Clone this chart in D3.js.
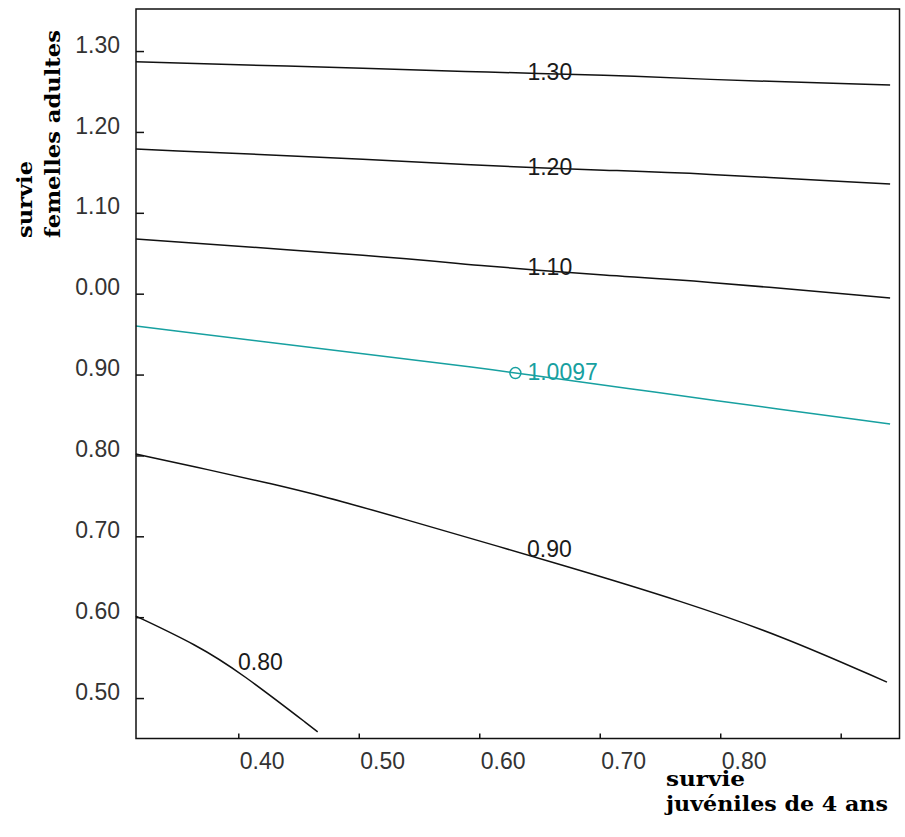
<!DOCTYPE html>
<html>
<head>
<meta charset="utf-8">
<script src="https://cdn.jsdelivr.net/npm/d3@7"></script>
<style>
  html, body { margin: 0; padding: 0; background: #fff; }
  svg { display: block; }
</style>
</head>
<body>
<svg id="chart" width="905" height="837"></svg>
<script>
// Isoclines of population growth rate (lambda) against
// juvenile (4 y) survival and adult female survival.

const xTicks = [0.40, 0.50, 0.60, 0.70, 0.80, 0.90];
const xTickLabels = ["0.40", "0.50", "0.60", "0.70", "0.80", ""];
const yTicks = [0.50, 0.60, 0.70, 0.80, 0.90, 1.00, 1.10, 1.20, 1.30];
const yTickLabels = ["0.50", "0.60", "0.70", "0.80", "0.90", "0.00", "1.10", "1.20", "1.30"];

// contour levels, each traced as [juvenile survival, adult female survival]
const contourLevels = ["1.30", "1.20", "1.10", "1.0097", "0.90", "0.80"];
const c130 = [[0.315, 1.2868], [0.526, 1.2777], [0.601, 1.2740], [0.711, 1.2703], [0.775, 1.2654], [0.941, 1.2580]];
const c120 = [[0.315, 1.1788], [0.526, 1.1652], [0.601, 1.1584], [0.711, 1.1522], [0.775, 1.1492], [0.941, 1.1355]];
const c110 = [[0.315, 1.0675], [0.526, 1.0457], [0.601, 1.0345], [0.711, 1.0218], [0.775, 1.0168], [0.941, 0.9946]];
const c10097 = [[0.315, 0.9600], [0.526, 0.9216], [0.601, 0.9080], [0.630, 0.9018], [0.734, 0.8808], [0.775, 0.8722], [0.941, 0.8388]];
const c090 = [[0.315, 0.8017], [0.3765, 0.7819], [0.4263, 0.7655], [0.4761, 0.7473], [0.5176, 0.7300], [0.6836, 0.6583], [0.7666, 0.6203], [0.8496, 0.5779], [0.9384, 0.5197]];
const c080 = [[0.315, 0.6014], [0.3657, 0.5655], [0.4014, 0.5322], [0.4659, 0.4583]];
const contours = [c130, c120, c110, c10097, c090, c080];

// where each level's value is written
const labelX = [0.640, 0.640, 0.640, 0.640, 0.6396, 0.3998];
const labelY = [1.2641, 1.1467, 1.0230, 0.8932, 0.6743, 0.5347];

// current parameter set (lambda = 1.0097)
const currentPoint = [0.630, 0.9018];

const svg = d3.select("#chart");
const plotLeft = 136, plotRight = 899.5, plotTop = 9, plotBottom = 738.5;

const x = d3.scaleLinear().domain([0.3151, 0.9488]).range([plotLeft, plotRight]);
const y = d3.scaleLinear().domain([0.4500, 1.3520]).range([plotBottom, plotTop]);

const numFont = "'Liberation Sans', Arial, sans-serif";
const numSize = 23;
const titleFont = "'DejaVu Serif', 'Liberation Serif', serif";
const teal = "#17a0a0";

// contour lines
const line = d3.line().x(d => x(d[0])).y(d => y(d[1])).curve(d3.curveBasis);
svg.append("g")
  .selectAll("path")
  .data(contours)
  .join("path")
  .attr("d", line)
  .attr("fill", "none")
  .attr("stroke", (d, i) => contourLevels[i] === "1.0097" ? teal : "#111")
  .attr("stroke-width", 1.5);

// contour values
svg.append("g")
  .selectAll("text")
  .data(contourLevels)
  .join("text")
  .attr("x", (d, i) => x(labelX[i]))
  .attr("y", (d, i) => y(labelY[i]))
  .attr("font-family", numFont)
  .attr("font-size", numSize)
  .attr("fill", d => d === "1.0097" ? teal : "#1a1a1a")
  .text(d => d);

// marker of the current value
svg.append("circle")
  .attr("cx", x(currentPoint[0]))
  .attr("cy", y(currentPoint[1]))
  .attr("r", 5.5)
  .attr("fill", "none")
  .attr("stroke", teal)
  .attr("stroke-width", 1.5);

// y axis, ticks pointing inward
const yAxis = d3.axisLeft(y)
  .tickValues(yTicks)
  .tickSizeInner(-8)
  .tickSizeOuter(0)
  .tickPadding(16)
  .tickFormat((d, i) => yTickLabels[i]);
const gy = svg.append("g").attr("transform", `translate(${plotLeft},0)`).call(yAxis);
gy.select(".domain").remove();
gy.selectAll(".tick line").attr("stroke", "#111").attr("stroke-width", 1.5);
gy.selectAll(".tick text")
  .attr("font-family", numFont)
  .attr("font-size", numSize)
  .attr("fill", "#333")
  .attr("dy", "0.05em");

// x axis, ticks pointing inward
const xAxis = d3.axisBottom(x)
  .tickValues(xTicks)
  .tickSizeInner(-5)
  .tickSizeOuter(0)
  .tickFormat((d, i) => xTickLabels[i]);
const gx = svg.append("g").attr("transform", `translate(0,${plotBottom})`).call(xAxis);
gx.select(".domain").remove();
gx.selectAll(".tick line").attr("stroke", "#111").attr("stroke-width", 1.5);
gx.selectAll(".tick text")
  .attr("font-family", numFont)
  .attr("font-size", numSize)
  .attr("fill", "#333")
  .attr("text-anchor", "start")
  .attr("x", 1)
  .attr("y", 30)
  .attr("dy", 0);

// plot frame
svg.append("rect")
  .attr("x", plotLeft).attr("y", plotTop)
  .attr("width", plotRight - plotLeft).attr("height", plotBottom - plotTop)
  .attr("fill", "none")
  .attr("stroke", "#111")
  .attr("stroke-width", 1.5);

// axis titles
const xt = svg.append("g").attr("font-family", titleFont).attr("font-weight", "bold")
  .attr("font-size", 20).attr("fill", "#000");
xt.append("text").attr("x", 666).attr("y", 786)
  .attr("textLength", 79).attr("lengthAdjust", "spacingAndGlyphs").text("survie");
xt.append("text").attr("x", 666).attr("y", 811)
  .attr("textLength", 222).attr("lengthAdjust", "spacingAndGlyphs").text("juvéniles de 4 ans");

const yt = svg.append("g").attr("font-family", titleFont).attr("font-weight", "bold")
  .attr("font-size", 20).attr("fill", "#000");
yt.append("text").attr("transform", "translate(32,238) rotate(-90)")
  .attr("textLength", 77).attr("lengthAdjust", "spacingAndGlyphs").text("survie");
yt.append("text").attr("transform", "translate(60,238) rotate(-90)")
  .attr("textLength", 208).attr("lengthAdjust", "spacingAndGlyphs").text("femelles adultes");
</script>
</body>
</html>
